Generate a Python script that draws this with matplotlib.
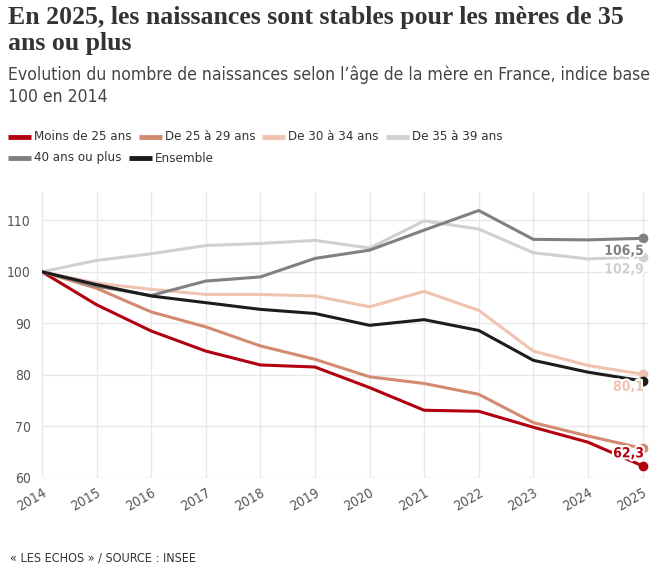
import matplotlib

matplotlib.use("Agg")

import matplotlib.pyplot as plt
import matplotlib.patheffects as pe

years = list(range(2014, 2026))

moins_25 = [100, 93.6, 88.5, 84.6, 81.9, 81.5, 77.5, 73.1, 72.9, 69.8, 66.9, 62.3]
de_25_29 = [100, 96.8, 92.2, 89.3, 85.6, 83.0, 79.6, 78.3, 76.2, 70.7, 68.1, 65.7]
de_30_34 = [100, 97.8, 96.6, 95.6, 95.6, 95.3, 93.2, 96.2, 92.5, 84.6, 81.8, 80.1]
de_35_39 = [100, 102.2, 103.5, 105.1, 105.5, 106.1, 104.6, 109.9, 108.3, 103.7, 102.5, 102.9]
plus_40 = [100, 97.2, 95.4, 98.2, 99.0, 102.6, 104.2, 108.1, 111.9, 106.3, 106.2, 106.5]
ensemble = [100, 97.5, 95.3, 94.0, 92.7, 91.9, 89.6, 90.7, 88.6, 82.8, 80.5, 78.8]

series = [
    ("Moins de 25 ans", moins_25, "#b3000f"),
    ("De 25 à 29 ans", de_25_29, "#d48a70"),
    ("De 30 à 34 ans", de_30_34, "#efc3b0"),
    ("De 35 à 39 ans", de_35_39, "#d0d0d0"),
    ("40 ans ou plus", plus_40, "#808080"),
    ("Ensemble", ensemble, "#1c1c1c"),
]

# end labels: (series index, vertical offset in points)
end_labels = [(4, -9), (3, -9), (2, -9), (0, 9)]

SANS = ["DejaVu Sans"]
SERIF = ["Liberation Serif", "DejaVu Serif"]
ST = "condensed"

W, H = 668, 571
fig = plt.figure(figsize=(W / 100, H / 100), dpi=100)

ax = fig.add_axes([42 / W, 1 - 477.7 / H, (648 - 42) / W, (477.7 - 192) / H])

for name, vals, color in series:
    ax.plot(years, vals, color=color, linewidth=2.2, solid_capstyle="round", zorder=3)
    ax.plot(years[-1], vals[-1], "o", color=color, markersize=6, zorder=4)

for idx, dy in end_labels:
    name, vals, color = series[idx]
    txt = f"{vals[-1]:.1f}".replace(".", ",")
    ax.annotate(txt, (years[-1], vals[-1]), xytext=(1, dy), textcoords="offset points",
                ha="right", va="center", fontsize=10, fontweight="bold", color=color,
                family=SANS, fontstretch=ST, zorder=5,
                path_effects=[pe.withStroke(linewidth=3, foreground="white")])

ax.set_xlim(2014, 2025.1)
ax.set_ylim(60, 115.5)
ax.set_xticks(years)
ax.set_xticklabels([str(y) for y in years], rotation=30, ha="right", va="top",
                   rotation_mode="anchor", family=SANS, fontstretch=ST, fontsize=10,
                   color="#555555")
ax.set_yticks([60, 70, 80, 90, 100, 110])
ax.set_yticklabels(["60", "70", "80", "90", "100", "110"], family=SANS, fontstretch=ST,
                   fontsize=10, color="#555555")
ax.tick_params(length=0, pad=8)
ax.tick_params(axis="x", pad=6)
ax.grid(True, color="#e8e8e8", linewidth=1)
for s in ax.spines.values():
    s.set_visible(False)

# title, subtitle
fig.text(8 / W, 1 - 6 / H, "En 2025, les naissances sont stables pour les mères de 35\nans ou plus",
         ha="left", va="top", family=SERIF, fontweight="bold", fontsize=18.5, color="#333333",
         linespacing=1.15)
fig.text(8 / W, 1 - 66 / H,
         "Evolution du nombre de naissances selon l’âge de la mère en France, indice base\n100 en 2014",
         ha="left", va="top", family=SANS, fontstretch=ST, fontsize=12.6, color="#444444",
         linespacing=1.25)

# legend, drawn by hand in two rows
fig.canvas.draw()
renderer = fig.canvas.get_renderer()
rows = [(137, series[:4]), (158, series[4:])]
for ypix, items in rows:
    x = 8
    for name, vals, color in items:
        yf = 1 - ypix / H
        fig.add_artist(plt.Line2D([x / W, (x + 23) / W], [yf, yf], color=color, linewidth=3.5,
                                  solid_capstyle="butt", transform=fig.transFigure))
        t = fig.text((x + 26) / W, yf, name, ha="left", va="center", family=SANS,
                     fontstretch=ST, fontsize=9.5, color="#333333")
        bb = t.get_window_extent(renderer)
        x = bb.x1 + 7

fig.text(10 / W, 1 - 558 / H, "« LES ECHOS » / SOURCE : INSEE", ha="left", va="center",
         family=SANS, fontstretch=ST, fontsize=9, color="#333333")

fig.savefig("out.png", dpi=100)
